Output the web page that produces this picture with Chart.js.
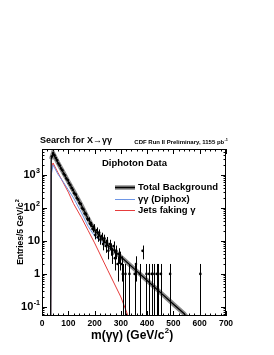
<!DOCTYPE html>
<html>
<head>
<meta charset="utf-8">
<script src="https://cdn.jsdelivr.net/npm/chart.js@4.4.1/dist/chart.umd.min.js"></script>
<style>
  html, body { margin: 0; padding: 0; background: #fff; }
  #wrap { width: 274px; height: 355px; }
</style>
</head>
<body>
<div id="wrap"><canvas id="grafico" width="274" height="355"></canvas></div>
<script>
// curvas de fondo (GeV/c^2, eventos por 5 GeV)
const masaCurva = [33, 35, 42, 60, 80, 100, 120, 150, 175, 200, 225, 250, 300, 350, 400, 450, 500, 540, 550];
const fondoTotal = [0.05, 3000, 4570, 2400, 1230, 630, 330, 120, 48, 21, 12.6, 7.6, 3.3, 1.45, 0.63, 0.275, 0.12, 0.063, 0.05];
const diphox = [0.05, 1000, 2000, 1070, 630, 355, 200, 71, 28, 14, 9.5, 6.3, 3.1, 1.38, 0.62, 0.27, 0.117, 0.06, 0.05];

const masaJets = [33, 35, 42, 60, 80, 100, 120, 150, 175, 200, 250, 300, 327, 535];
const jetsFalsos = [0.05, 1300, 2300, 1200, 600, 300, 135, 51, 21, 8.7, 1.3, 0.2, 0.0545, 0.0545];

// datos (solo bins con entradas)
const masaDatos = [
  37.5, 42.5, 47.5, 52.5, 57.5, 62.5, 67.5, 72.5, 77.5, 82.5, 87.5, 92.5, 97.5,
  102.5, 107.5, 112.5, 117.5, 122.5, 127.5, 132.5, 137.5, 142.5, 147.5,
  152.5, 157.5, 162.5, 167.5, 172.5, 177.5, 182.5, 187.5, 192.5, 197.5,
  202.5, 207.5, 212.5, 217.5, 222.5, 227.5, 232.5, 237.5, 242.5, 247.5,
  252.5, 257.5, 262.5, 267.5, 272.5, 277.5, 282.5, 287.5, 292.5, 297.5,
  302.5, 307.5, 317.5, 332.5, 352.5, 357.5, 372.5, 382.5, 397.5,
  407.5, 417.5, 427.5, 437.5, 442.5, 452.5, 487.5, 602.5
];
const cuentas = [
  3600, 4480, 3950, 3240, 2760, 2210, 1930, 1570, 1380, 1090, 970, 780, 700,
  560, 495, 400, 352, 280, 256, 198, 180, 140, 131,
  98, 91, 68, 64, 47, 45, 33, 32, 23, 27,
  15, 21, 13, 18, 11, 14, 8, 12, 7, 10,
  5, 8, 6, 4, 7, 3, 5, 2, 4, 3,
  2, 1, 1, 1, 1, 2, 1, 5, 1,
  1, 1, 1, 1, 1, 1, 1, 1
];

const ticksX = [0, 100, 200, 300, 400, 500, 600, 700];
const ticksY = [1000, 100, 10, 1, 0.1];
const etiquetasY = [['10', '3'], ['10', '2'], ['10', ''], ['1', ''], ['10', '-1']];
const yMin = 0.053, yMax = 6100;

const FUENTE = '"Liberation Sans", Arial, Helvetica, sans-serif';

function puntos(xs, ys) {
  return xs.map((x, i) => ({ x: x, y: ys[i] }));
}

// texto con superindice al final
function textoSup(ctx, base, sup, x, y, size, align) {
  ctx.font = 'bold ' + size + 'px ' + FUENTE;
  let wb = ctx.measureText(base).width;
  ctx.font = 'bold ' + (size * 0.65) + 'px ' + FUENTE;
  let ws = sup ? ctx.measureText(sup).width + 0.3 : 0;
  let x0 = x;
  if (align === 'center') x0 = x - (wb + ws) / 2;
  if (align === 'right') x0 = x - (wb + ws);
  ctx.textAlign = 'left';
  ctx.textBaseline = 'middle';
  ctx.font = 'bold ' + size + 'px ' + FUENTE;
  ctx.fillText(base, x0, y);
  if (sup) {
    ctx.font = 'bold ' + (size * 0.65) + 'px ' + FUENTE;
    ctx.fillText(sup, x0 + wb + 0.3, y - size * 0.42);
  }
  return x0 + wb + ws;
}

const estiloRoot = {
  id: 'estiloRoot',
  afterDatasetsDraw(chart) {
    // barras de error de los datos
    let ctx = chart.ctx, a = chart.chartArea;
    let sx = chart.scales.x, sy = chart.scales.y;
    ctx.save();
    ctx.beginPath();
    ctx.rect(a.left, a.top, a.right - a.left, a.bottom - a.top);
    ctx.clip();
    ctx.strokeStyle = '#000';
    ctx.lineWidth = 1;
    masaDatos.forEach((m, i) => {
      let n = cuentas[i], e = Math.sqrt(n);
      let px = Math.round(sx.getPixelForValue(m)) + 0.5;
      let top = sy.getPixelForValue(n + e);
      let bot = n - e > 0 ? sy.getPixelForValue(n - e) : a.bottom;
      ctx.beginPath();
      ctx.moveTo(px, top);
      ctx.lineTo(px, bot);
      ctx.stroke();
    });
    ctx.restore();
  },
  afterDraw(chart) {
    let ctx = chart.ctx, a = chart.chartArea;
    let sx = chart.scales.x, sy = chart.scales.y;
    ctx.save();
    ctx.strokeStyle = '#000';
    ctx.lineWidth = 1;
    ctx.strokeRect(Math.round(a.left) + 0.5, Math.round(a.top) + 0.5,
      Math.round(a.right - a.left) - 1, Math.round(a.bottom - a.top) - 1);

    // marcas del eje x, abajo y arriba
    ctx.beginPath();
    for (let v = 0; v <= 700; v += 20) {
      let px = Math.round(sx.getPixelForValue(v)) + 0.5;
      let len = v % 100 === 0 ? 5 : 2.5;
      ctx.moveTo(px, a.bottom);
      ctx.lineTo(px, a.bottom - len);
      ctx.moveTo(px, a.top);
      ctx.lineTo(px, a.top + len);
    }
    // marcas del eje y (log)
    for (let d = -2; d <= 4; d++) {
      for (let k = 1; k <= 9; k++) {
        let v = k * Math.pow(10, d);
        if (v < yMin || v > yMax) continue;
        let py = Math.round(sy.getPixelForValue(v)) + 0.5;
        let len = k === 1 ? 5 : 2.5;
        ctx.moveTo(a.left, py);
        ctx.lineTo(a.left + len, py);
        ctx.moveTo(a.right, py);
        ctx.lineTo(a.right - len, py);
      }
    }
    ctx.stroke();

    ctx.fillStyle = '#000';
    // etiquetas de los ejes
    ctx.font = 'bold 8.5px ' + FUENTE;
    ctx.textAlign = 'center';
    ctx.textBaseline = 'middle';
    ticksX.forEach(v => ctx.fillText(String(v), sx.getPixelForValue(v), a.bottom + 7.5));
    ticksY.forEach((v, i) => {
      let et = etiquetasY[i];
      textoSup(ctx, et[0], et[1], 40, sy.getPixelForValue(v) + 0.5, 11, 'right');
    });

    // titulos
    ctx.font = 'bold 9px ' + FUENTE;
    ctx.textAlign = 'left';
    ctx.textBaseline = 'middle';
    ctx.fillText('Search for X\u2192\u03b3\u03b3', 40, 140.5);
    textoSup(ctx, 'CDF Run II Preliminary, 1155 pb', '-1', 228, 142, 6, 'right');

    ctx.font = 'bold 9.5px ' + FUENTE;
    ctx.textAlign = 'left';
    ctx.fillText('Diphoton Data', 102, 163.5);

    // leyenda
    ctx.lineCap = 'butt';
    ctx.strokeStyle = '#8c8c8c';
    ctx.lineWidth = 4.5;
    ctx.beginPath(); ctx.moveTo(115, 187.5); ctx.lineTo(135, 187.5); ctx.stroke();
    ctx.strokeStyle = '#000';
    ctx.lineWidth = 1.5;
    ctx.beginPath(); ctx.moveTo(115, 187.5); ctx.lineTo(135, 187.5); ctx.stroke();
    ctx.strokeStyle = 'rgb(110,150,230)';
    ctx.lineWidth = 1;
    ctx.beginPath(); ctx.moveTo(115, 199.5); ctx.lineTo(135, 199.5); ctx.stroke();
    ctx.strokeStyle = 'rgb(230,60,60)';
    ctx.beginPath(); ctx.moveTo(115, 210.5); ctx.lineTo(135, 210.5); ctx.stroke();

    ctx.font = 'bold 9.5px ' + FUENTE;
    ctx.textAlign = 'left';
    ctx.fillText('Total Background', 138, 187.5);
    ctx.fillText('\u03b3\u03b3 (Diphox)', 138, 199);
    ctx.fillText('Jets faking \u03b3', 138, 210);

    // titulo eje x
    let fin = textoSup(ctx, 'm(\u03b3\u03b3) (GeV/c', '2', 130, 336, 12, 'center');
    ctx.font = 'bold 12px ' + FUENTE;
    ctx.fillText(')', fin + 0.3, 336);

    // titulo eje y
    ctx.translate(21, 232);
    ctx.rotate(-Math.PI / 2);
    textoSup(ctx, 'Entries/5 GeV/c', '2', 0, 0, 8.5, 'center');
    ctx.restore();
  }
};

let ctx = document.getElementById('grafico').getContext('2d');
new Chart(ctx, {
  type: 'line',
  data: {
    datasets: [
      {
        label: 'Diphoton Data',
        data: puntos(masaDatos, cuentas),
        showLine: false,
        pointRadius: 1.3,
        pointBackgroundColor: '#000',
        pointBorderWidth: 0,
        order: 0
      },
      {
        label: 'Total Background',
        data: puntos(masaCurva, fondoTotal),
        borderColor: '#000',
        borderWidth: 1.2,
        pointRadius: 0,
        tension: 0,
        order: 1
      },
      {
        label: 'Total Background band',
        data: puntos(masaCurva, fondoTotal),
        borderColor: '#8c8c8c',
        borderWidth: 4.5,
        segment: { borderWidth: c => c.p0DataIndex === 0 ? 1 : 4.5 },
        pointRadius: 0,
        tension: 0,
        order: 2
      },
      {
        label: '\u03b3\u03b3 (Diphox)',
        data: puntos(masaCurva, diphox),
        borderColor: 'rgb(110,150,230)',
        borderWidth: 1,
        pointRadius: 0,
        tension: 0,
        order: 3
      },
      {
        label: 'Jets faking \u03b3',
        data: puntos(masaJets, jetsFalsos),
        borderColor: 'rgb(230,60,60)',
        borderWidth: 1,
        pointRadius: 0,
        tension: 0,
        order: 4
      }
    ]
  },
  options: {
    responsive: false,
    animation: false,
    events: [],
    layout: { padding: { left: 0, right: 48, top: 149, bottom: 0 } },
    plugins: { legend: { display: false }, tooltip: { enabled: false } },
    scales: {
      x: {
        type: 'linear',
        min: 0,
        max: 700,
        grid: { display: false, drawTicks: false },
        border: { display: false },
        afterFit: s => { s.height = 39; },
        ticks: { display: false }
      },
      y: {
        type: 'logarithmic',
        min: yMin,
        max: yMax,
        grid: { display: false, drawTicks: false },
        border: { display: false },
        afterFit: s => { s.width = 42; },
        ticks: { display: false }
      }
    }
  },
  plugins: [estiloRoot]
});
</script>
</body>
</html>
